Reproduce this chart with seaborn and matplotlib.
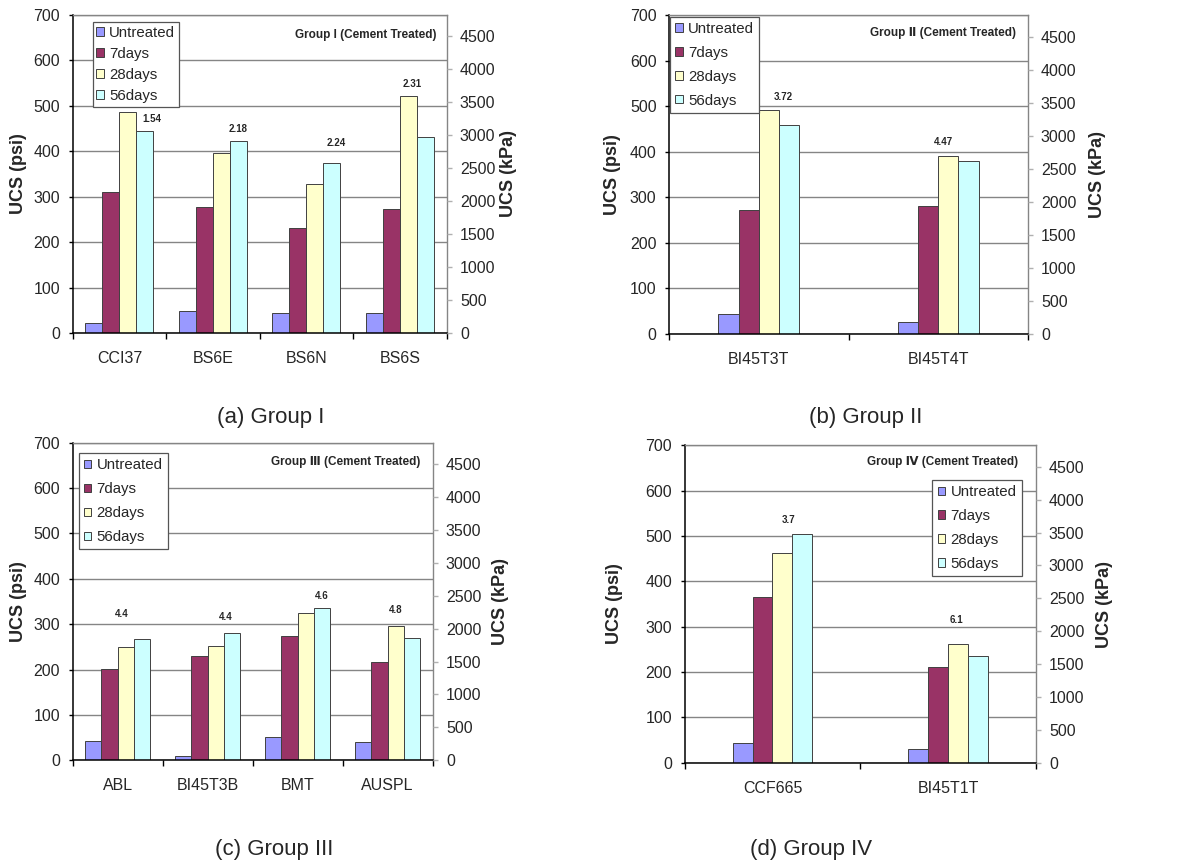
import numpy as np
import pandas as pd
import matplotlib
matplotlib.use("Agg")
import matplotlib.pyplot as plt
import seaborn as sns

# ---------------- data ----------------
ages = ["Untreated", "7days", "28days", "56days"]

g1_samples = ["CCI37", "BS6E", "BS6N", "BS6S"]
g1_untreated = [22, 48, 44, 44]
g1_7days = [311, 278, 230, 273]
g1_28days = [487, 396, 328, 522]
g1_56days = [445, 423, 373, 431]
g1_ratios = ["1.54", "2.18", "2.24", "2.31"]

g2_samples = ["BI45T3T", "BI45T4T"]
g2_untreated = [44, 26]
g2_7days = [272, 281]
g2_28days = [493, 390]
g2_56days = [460, 380]
g2_ratios = ["3.72", "4.47"]

g3_samples = ["ABL", "BI45T3B", "BMT", "AUSPL"]
g3_untreated = [42, 9, 51, 40]
g3_7days = [201, 229, 275, 216]
g3_28days = [250, 251, 325, 295]
g3_56days = [267, 281, 335, 270]
g3_ratios = ["4.4", "4.4", "4.6", "4.8"]

g4_samples = ["CCF665", "BI45T1T"]
g4_untreated = [43, 30]
g4_7days = [365, 210]
g4_28days = [462, 262]
g4_56days = [505, 235]
g4_ratios = ["3.7", "6.1"]

titles = ["Group I (Cement Treated)", "Group \u2161 (Cement Treated)",
          "Group \u2162 (Cement Treated)", "Group \u2163 (Cement Treated)"]
captions = ["(a) Group I", "(b) Group II", "(c) Group III", "(d) Group IV"]

# ---------------- style / layout ----------------
colors = ["#9999FF", "#993366", "#FFFFCC", "#CCFFFF"]
PSI_TO_KPA = 6.894757
W, H = 1185, 865

sns.set_style("white")
plt.rcParams["font.family"] = ["Liberation Sans", "DejaVu Sans"]

# axes boxes in pixels: left, top, right, bottom
boxes = [(72.7, 14.7, 446.7, 333.0),
         (669.3, 15.3, 1027.7, 334.0),
         (72.7, 442.7, 432.7, 760.3),
         (684.7, 445.3, 1035.7, 762.7)]
bar_widths = [0.727, 0.452, 0.726, 0.454]
ratio_x = [[0.348, 1.268, 2.316, 3.136], [0.136, 1.029],
           [0.041, 1.20, 2.267, 3.093], [0.091, 1.046]]
ratio_y = [[471, 449, 417, 547], [521, 421],
           [322, 315, 363, 331], [536, 315]]
title_xy = [(0.973, 0.936), (0.966, 0.944), (0.967, 0.938), (0.951, 0.946)]
legend_locs = [("upper left", (0.0535, 0.976), 0.46, 0.25),
               ("upper left", (0.002, 0.996), 0.66, 0.35),
               ("upper left", (0.0167, 0.967), 0.66, 0.35),
               ("upper right", (0.960, 0.891), 0.66, 0.35)]
ylab_left_px = [46, 48, 46, 62]
ylab_right_px = [53, 61, 59, 60]
caption_xy = [(271, 417), (866, 418), (274, 850), (811, 850)]

groups = [
    (g1_samples, [g1_untreated, g1_7days, g1_28days, g1_56days], g1_ratios),
    (g2_samples, [g2_untreated, g2_7days, g2_28days, g2_56days], g2_ratios),
    (g3_samples, [g3_untreated, g3_7days, g3_28days, g3_56days], g3_ratios),
    (g4_samples, [g4_untreated, g4_7days, g4_28days, g4_56days], g4_ratios),
]

fig = plt.figure(figsize=(W / 100, H / 100), dpi=100)

for i, (samples, series, ratios) in enumerate(groups):
    l, t, r, b = boxes[i]
    ax = fig.add_axes([l / W, 1 - b / H, (r - l) / W, (b - t) / H])
    rows = []
    for age, vals in zip(ages, series):
        for s, v in zip(samples, vals):
            rows.append({"Sample": s, "Age": age, "UCS": v})
    df = pd.DataFrame(rows)
    sns.barplot(data=df, x="Sample", y="UCS", hue="Age", order=samples,
                hue_order=ages, palette=colors, width=bar_widths[i],
                errorbar=None, edgecolor="#404040", linewidth=0.7,
                saturation=1, gap=0, ax=ax, zorder=3)
    n = len(samples)
    ax.set_xlim(-0.5, n - 0.5)
    ax.set_ylim(0, 700)
    ax.set_yticks(np.arange(0, 701, 100))
    ax.yaxis.grid(True, color="#858585", linewidth=1.0, zorder=0)
    ax.set_axisbelow(True)
    ax.set_xlabel("")
    ax.set_ylabel("UCS (psi)", fontsize=13, fontweight="bold")
    ax.yaxis.set_label_coords(-ylab_left_px[i] / (r - l), 0.5)

    for sp in ["left", "bottom"]:
        ax.spines[sp].set_color("black")
        ax.spines[sp].set_linewidth(1.1)
    for sp in ["top", "right"]:
        ax.spines[sp].set_color("#858585")
        ax.spines[sp].set_linewidth(1.0)
    ax.spines["bottom"].set_zorder(5)

    ax.tick_params(axis="y", which="major", direction="out", length=3.2,
                   width=1, color="black", labelsize=11.5, pad=6, left=True)
    ax.set_xticks(np.arange(-0.5, n, 1.0), minor=True)
    ax.tick_params(axis="x", which="minor", direction="out", length=4,
                   width=1, color="black", bottom=True)
    ax.tick_params(axis="x", which="major", length=0, labelsize=11.5, pad=13)

    # bar annotation labels
    for txt, xx, yy in zip(ratios, ratio_x[i], ratio_y[i]):
        ax.text(xx, yy, txt, ha="center", va="center", fontsize=7,
                fontweight="bold", zorder=6)
    ax.text(title_xy[i][0], title_xy[i][1], titles[i], transform=ax.transAxes,
            ha="right", va="center", fontsize=8.5, fontweight="bold", zorder=6)

    # legend
    handles, labels = ax.get_legend_handles_labels()
    loc, anchor, lsp, bpad = legend_locs[i]
    leg = ax.legend(handles, labels, loc=loc, bbox_to_anchor=anchor,
                    fontsize=10.8, frameon=True, fancybox=False, shadow=False,
                    framealpha=1, edgecolor="#555555", borderpad=bpad,
                    labelspacing=lsp, handlelength=0.5, handleheight=0.5,
                    handletextpad=0.35, borderaxespad=0)
    leg.get_frame().set_linewidth(0.9)
    leg.set_zorder(7)

    # secondary kPa axis
    ax2 = ax.twinx()
    ax2.set_ylim(0, 700 * PSI_TO_KPA)
    ax2.set_yticks(np.arange(0, 4501, 500))
    ax2.tick_params(axis="y", direction="out", length=3.5, width=1,
                    color="#b0b0b0", labelsize=11.5, pad=6)
    ax2.set_ylabel("UCS (kPa)", fontsize=13, fontweight="bold")
    ax2.yaxis.set_label_coords(1 + ylab_right_px[i] / (r - l), 0.5)
    for sp in ax2.spines.values():
        sp.set_visible(False)
    ax2.grid(False)

    fig.text(caption_xy[i][0] / W, 1 - caption_xy[i][1] / H, captions[i],
             ha="center", va="center", fontsize=16)

fig.savefig("out.png", dpi=100)
